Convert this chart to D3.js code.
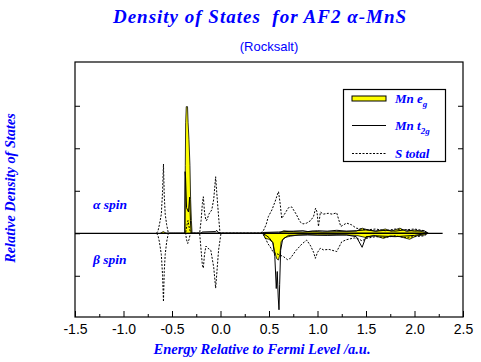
<!DOCTYPE html>
<html><head><meta charset="utf-8">
<script src="https://cdn.jsdelivr.net/npm/d3@7"></script>
<style>body{margin:0;background:#fff}svg{display:block}</style>
</head><body>
<script>
// ---- data (energy a.u., relative DOS) ----
const xTicks = [-1.5,-1.0,-0.5,0.0,0.5,1.0,1.5,2.0,2.5];
const xMinorTicks = [-1.25,-0.75,-0.25,0.25,0.75,1.25,1.75,2.25];
const yTicks = [-1,0,1,2,3];
const legendLabels = ["Mn e","Mn t","S total"];
const legendSubs = ["g","2g",""];

const sTotalAlpha = [[-0.66,0],[-0.645,0.05],[-0.63,0.2],[-0.61,0.45],[-0.597,1.0],[-0.588,1.63],[-0.58,0.9],[-0.57,0.45],[-0.555,0.2],[-0.54,0.03],[-0.53,0],
 [-0.36,0],[-0.345,0.2],[-0.335,0.3],[-0.32,0.1],[-0.305,0],
 [-0.215,0],[-0.2,0.3],[-0.187,0.7],[-0.177,0.86],[-0.165,0.5],[-0.15,0.3],[-0.14,0.31],[-0.12,0.45],[-0.09,0.55],[-0.07,0.8],[-0.05,1.33],[-0.04,1.0],[-0.02,0.4],[-0.005,0],
 [0.41,0],[0.44,0.05],[0.47,0.2],[0.493,0.39],[0.53,0.55],[0.562,0.74],[0.585,0.9],[0.598,0.98],[0.615,0.7],[0.631,0.35],[0.66,0.45],[0.7,0.6],[0.734,0.62],[0.78,0.45],[0.82,0.27],[0.85,0.22],[0.889,0.24],[0.93,0.3],[0.96,0.4],[0.98,0.59],[0.995,0.5],[1.01,0.16],[1.03,0.5],[1.06,0.45],[1.11,0.47],[1.15,0.45],[1.198,0.48],[1.24,0.16],[1.27,0.2],[1.3,0.24],[1.35,0.2],[1.4,0.12],[1.45,0.1],[1.5,0.08],[1.6,0.1],[1.7,0.06],[1.8,0.1],[1.9,0.08],[2.0,0.1],[2.1,0.06],[2.14,0]];

const sTotalBeta = [[-0.66,0],[-0.645,-0.05],[-0.63,-0.2],[-0.61,-0.5],[-0.597,-1.0],[-0.588,-1.61],[-0.58,-0.9],[-0.57,-0.5],[-0.555,-0.2],[-0.54,-0.03],[-0.53,0],
 [-0.36,0],[-0.35,-0.15],[-0.338,-0.24],[-0.325,-0.15],[-0.31,0],
 [-0.215,0],[-0.2,-0.4],[-0.187,-0.75],[-0.177,-0.82],[-0.165,-0.5],[-0.15,-0.3],[-0.13,-0.35],[-0.1,-0.4],[-0.07,-0.8],[-0.05,-1.29],[-0.04,-1.0],[-0.02,-0.4],[0.005,0],
 [0.43,0],[0.46,-0.1],[0.49,-0.25],[0.51,-0.31],[0.545,-0.45],[0.6,-0.5],[0.65,-0.55],[0.69,-0.62],[0.72,-0.59],[0.78,-0.4],[0.84,-0.25],[0.889,-0.16],[0.93,-0.3],[0.96,-0.45],[0.978,-0.59],[1.0,-0.45],[1.03,-0.35],[1.06,-0.39],[1.12,-0.38],[1.198,-0.43],[1.25,-0.2],[1.3,-0.15],[1.38,-0.11],[1.43,-0.14],[1.46,-0.18],[1.5,-0.12],[1.6,-0.08],[1.7,-0.1],[1.8,-0.06],[1.9,-0.1],[2.0,-0.08],[2.1,-0.06],[2.14,0]];

const mnEgAlpha = [[-0.62,0],[-0.59,0.04],[-0.56,0],
 [-0.367,0],[-0.363,1.6],[-0.359,2.6],[-0.353,2.98],[-0.34,2.98],[-0.334,2.6],[-0.325,2.2],[-0.315,1.6],[-0.308,0.8],[-0.3,0.3],[-0.293,0],
 [0.6,0],[0.65,0.06],[0.75,0.04],[0.85,0.03],[0.95,0.05],[1.05,0.03],[1.2,0.04],[1.4,0.05],[1.46,0.12],[1.52,0.08],[1.6,0.05],[1.7,0.1],[1.76,0.05],[1.85,0.12],[1.92,0.04],[2.0,0.08],[2.08,0.04],[2.14,0]];

const mnEgBeta = [[0.44,0],[0.46,-0.12],[0.5,-0.14],[0.54,-0.22],[0.56,-0.45],[0.58,-0.6],[0.597,-0.63],[0.612,-0.5],[0.625,-0.2],[0.66,-0.1],[0.72,-0.07],[0.8,-0.04],[0.9,-0.03],[1.0,-0.04],[1.2,-0.03],[1.4,-0.05],[1.5,-0.1],[1.58,-0.05],[1.68,-0.12],[1.75,-0.06],[1.85,-0.08],[1.95,-0.14],[2.02,-0.06],[2.1,-0.04],[2.14,0]];

const mnT2gAlpha = [[-0.368,0],[-0.365,1.45],[-0.36,1.3],[-0.35,0.6],[-0.33,0.5],[-0.318,0.85],[-0.31,0.3],[-0.302,0],
 [-0.2,0],[-0.19,0.03],[-0.05,0.04],[-0.04,0.07],[-0.03,0.03],[0,0],
 [0.42,0],[0.45,0.02],[0.6,0.03],[0.75,0.05],[0.85,0.06],[0.9,0.04],[1.0,0.06],[1.1,0.05],[1.2,0.07],[1.3,0.05],[1.4,0.06],[1.5,0.08],[1.6,0.05],[1.7,0.07],[1.8,0.05],[1.9,0.08],[2.0,0.05],[2.1,0.06],[2.14,0]];

const mnT2gBeta = [[0.43,0],[0.47,-0.05],[0.5,-0.1],[0.54,-0.22],[0.56,-0.55],[0.575,-1.3],[0.585,-0.9],[0.595,-1.5],[0.603,-1.8],[0.61,-1.2],[0.62,-0.4],[0.64,-0.15],[0.7,-0.05],[0.9,-0.04],[1.1,-0.05],[1.3,-0.04],[1.4,-0.08],[1.46,-0.33],[1.5,-0.08],[1.6,-0.06],[1.8,-0.08],[2.0,-0.05],[2.14,0]];

const zeroLineEnd = 2.29;

// ---- drawing ----
const W = 481, H = 362;
const L = 75, R = 463, T = 62, B = 317;
const blue = "#0000ff";
const serif = "'Liberation Serif','Times New Roman',serif";
const sans = "'Liberation Sans',Arial,sans-serif";

const svg = d3.select("body").append("svg").attr("width", W).attr("height", H);
const x = d3.scaleLinear().domain([-1.5, 2.5]).range([L, R]);
const y = d3.scaleLinear().domain([-1.97, 4.03]).range([B, T]);

const line = d3.line().x(d => x(d[0])).y(d => y(d[1]));
const area = d3.area().x(d => x(d[0])).y0(y(0)).y1(d => y(d[1]));

// yellow e_g fills
[mnEgAlpha, mnEgBeta].forEach(s => {
  svg.append("path").datum(s).attr("d", area)
    .attr("fill", "#ffff00").attr("stroke", "#000").attr("stroke-width", 0.8);
});
// t2g solid
[mnT2gAlpha, mnT2gBeta].forEach(s => {
  svg.append("path").datum(s).attr("d", line)
    .attr("fill", "none").attr("stroke", "#000").attr("stroke-width", 1);
});
// S total dotted
[sTotalAlpha, sTotalBeta].forEach(s => {
  svg.append("path").datum(s).attr("d", line)
    .attr("fill", "none").attr("stroke", "#000").attr("stroke-width", 1)
    .attr("stroke-dasharray", "2,1.5");
});
// zero line
svg.append("line").attr("x1", x(-1.5)).attr("x2", x(zeroLineEnd))
  .attr("y1", y(0)).attr("y2", y(0)).attr("stroke", "#000").attr("stroke-width", 1.2);

// frame
svg.append("rect").attr("x", L).attr("y", T).attr("width", R - L).attr("height", B - T)
  .attr("fill", "none").attr("stroke", "#000").attr("stroke-width", 1.2);

// axes
const gx = svg.append("g").attr("transform", `translate(0,${B})`)
  .call(d3.axisBottom(x).tickValues(xTicks).tickSize(-6).tickPadding(7).tickFormat(d3.format(".1f")));
gx.select(".domain").remove();
gx.selectAll("text").attr("font-family", sans).attr("font-size", 14).attr("fill", "#000")
  .text(d => d3.format(".1f")(d).replace("−", "-"));
const gxm = svg.append("g").attr("transform", `translate(0,${B})`)
  .call(d3.axisBottom(x).tickValues(xMinorTicks).tickSize(-3).tickFormat(""));
gxm.select(".domain").remove();

const gl = svg.append("g").attr("transform", `translate(${L},0)`)
  .call(d3.axisLeft(y).tickValues(yTicks).tickSize(-5).tickFormat(""));
gl.select(".domain").remove();
const gr = svg.append("g").attr("transform", `translate(${R},0)`)
  .call(d3.axisRight(y).tickValues(yTicks).tickSize(-5).tickFormat(""));
gr.select(".domain").remove();

// titles
svg.append("text").attr("x", 260).attr("y", 22.5).attr("text-anchor", "middle")
  .attr("font-family", serif).attr("font-weight", "bold").attr("font-style", "italic")
  .attr("font-size", 19).attr("letter-spacing", 1).attr("fill", blue)
  .style("white-space", "pre").text("Density of States  for AF2 α-MnS");
svg.append("text").attr("x", 269).attr("y", 51).attr("text-anchor", "middle")
  .attr("font-family", sans).attr("font-size", 13).attr("fill", blue).text("(Rocksalt)");
svg.append("text").attr("x", 262).attr("y", 354).attr("text-anchor", "middle")
  .attr("font-family", serif).attr("font-weight", "bold").attr("font-style", "italic")
  .attr("font-size", 14.5).attr("fill", blue).text("Energy Relative to Fermi Level /a.u.");
svg.append("text").attr("transform", "translate(14.5,188) rotate(-90)").attr("text-anchor", "middle")
  .attr("font-family", serif).attr("font-weight", "bold").attr("font-style", "italic")
  .attr("font-size", 14.3).attr("fill", blue).text("Relative Density of States");

// spin labels
svg.append("text").attr("x", 93).attr("y", 209)
  .attr("font-family", serif).attr("font-weight", "bold").attr("font-style", "italic")
  .attr("font-size", 13.5).attr("fill", blue).style("white-space", "pre").text("α spin");
svg.append("text").attr("x", 93).attr("y", 264)
  .attr("font-family", serif).attr("font-weight", "bold").attr("font-style", "italic")
  .attr("font-size", 13.5).attr("fill", blue).style("white-space", "pre").text("β spin");

// legend
const lg = svg.append("g");
lg.append("rect").attr("x", 343.5).attr("y", 89.5).attr("width", 102).attr("height", 72)
  .attr("fill", "#fff").attr("stroke", "#000").attr("stroke-width", 1.2);
const rowY = [98.5, 125.5, 153.5];
lg.append("rect").attr("x", 352).attr("y", rowY[0] - 2.5).attr("width", 34).attr("height", 5)
  .attr("fill", "#ffff00").attr("stroke", "#000").attr("stroke-width", 1);
lg.append("line").attr("x1", 352).attr("x2", 386).attr("y1", rowY[1]).attr("y2", rowY[1])
  .attr("stroke", "#000").attr("stroke-width", 1);
lg.append("line").attr("x1", 352).attr("x2", 386).attr("y1", rowY[2]).attr("y2", rowY[2])
  .attr("stroke", "#000").attr("stroke-width", 1).attr("stroke-dasharray", "2,1.5");
legendLabels.forEach((t, i) => {
  const tx = lg.append("text").attr("x", 395).attr("y", rowY[i] + 4.5)
    .attr("font-family", serif).attr("font-weight", "bold").attr("font-style", "italic")
    .attr("font-size", 13).attr("fill", blue).style("white-space", "pre").text(t);
  if (legendSubs[i]) tx.append("tspan").attr("font-size", 9).attr("dy", 4).text(legendSubs[i]);
});
</script>
</body></html>
